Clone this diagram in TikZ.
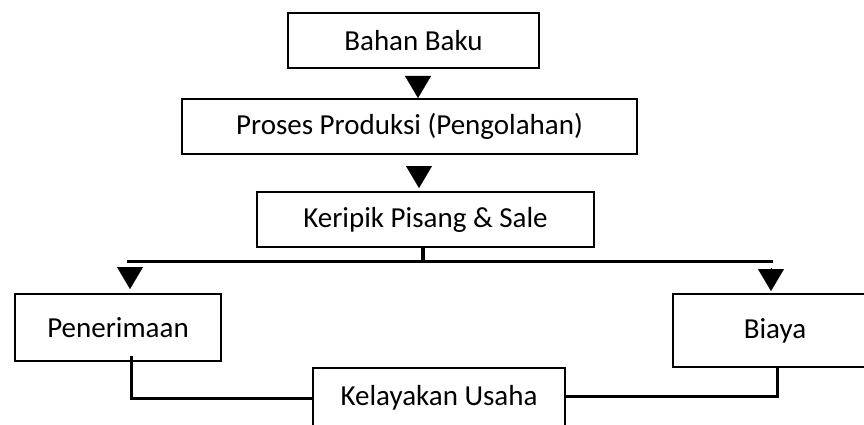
\documentclass[tikz,border=0pt]{standalone}
\usepackage{fontspec}
\setmainfont{Carlito}
\usetikzlibrary{arrows.meta}
\begin{document}
\begin{tikzpicture}[x=1pt,y=-1pt,
  box/.style={draw=black,line width=2pt,fill=white,inner sep=0pt,
    font=\fontsize{29}{35}\selectfont},
  link/.style={line width=3pt,line cap=butt,line join=miter},
  tri/.style={line width=0.1pt,-{Triangle[width=26pt,length=22pt]}}]
\useasboundingbox (0,0) rectangle (864,425);
\node[box,minimum width=251pt,minimum height=55pt] (bahan) at (413.5,40.5) {Bahan Baku};
\node[box,minimum width=455pt,minimum height=55pt] (proses) at (409.5,126.5) {Proses Produksi (Pengolahan)};
\node[box,minimum width=337pt,minimum height=55pt] (keripik) at (425.5,219.5) {Keripik Pisang \& Sale};
\node[box,minimum width=206pt,minimum height=67pt] (terima) at (118,327.5) {Penerimaan};
\node[box,minimum width=204pt,minimum height=73pt] (biaya) at (775,330.5) {Biaya};
\node[box,minimum width=252pt,minimum height=68pt,anchor=north] (kelayakan) at (439,367) {};
\node[font=\fontsize{29}{35}\selectfont,inner sep=0pt] (keltext) at (439,398) {Kelayakan Usaha};
\coordinate (barL) at (127,261);
\coordinate (barR) at (773,261);
\coordinate (stub) at (423,261);
% arrows (triangle heads only)
\draw[tri,shorten <=10pt] ([xshift=4.5pt]bahan.south) -- ([xshift=8.5pt]proses.north);
\draw[tri,shorten <=13pt,shorten >=3pt] ([xshift=9.5pt]proses.south) -- ([xshift=-6.5pt]keripik.north);
% distribution bar
\draw[link,line width=4pt] ([xshift=-2.5pt]keripik.south) -- (stub);
\draw[link] (barL) -- (barR);
\draw[tri,shorten <=6pt,shorten >=4pt] (130,261) -- (terima.north -| 130,0);
\draw[tri,shorten <=7pt,shorten >=2pt] (771,261) -- (biaya.north -| 771,0);
% to kelayakan
\draw[link] ([xshift=13pt,yshift=6pt]terima.south) |- (kelayakan.west |- 0,398);
\draw[link] ([xshift=2pt]biaya.south) |- (kelayakan.east |- 0,396);
\end{tikzpicture}
\end{document}
